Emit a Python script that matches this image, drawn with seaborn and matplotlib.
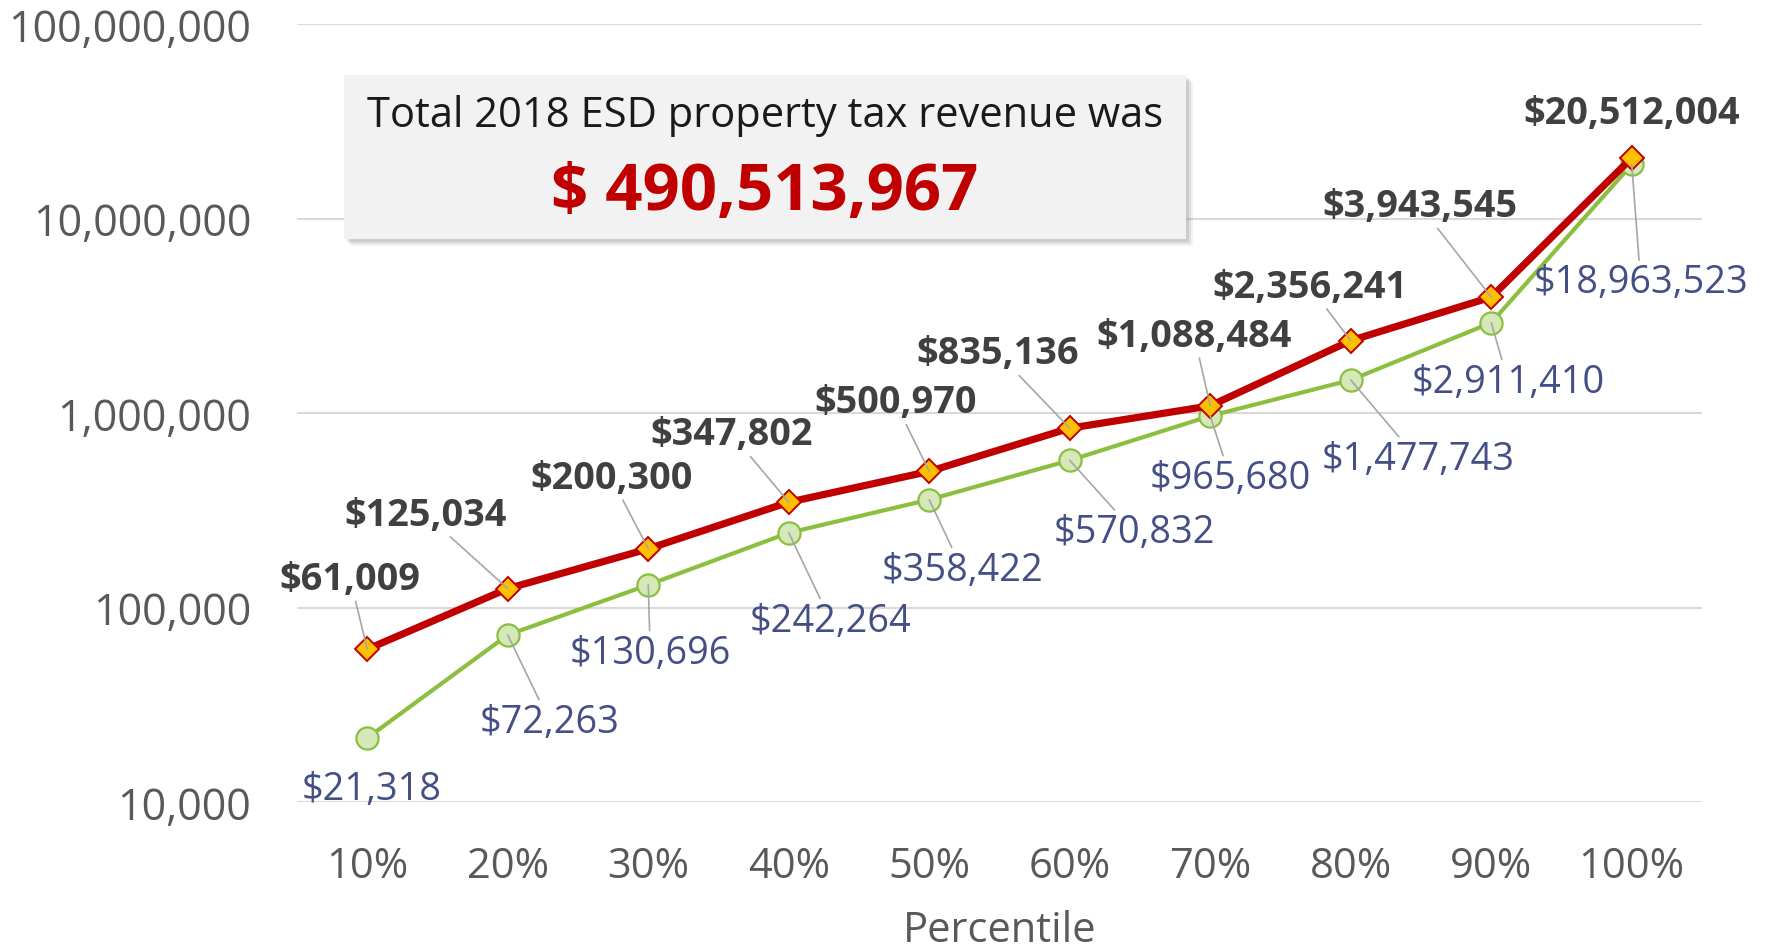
import numpy as np
import pandas as pd
import matplotlib
matplotlib.use("Agg")
import matplotlib.pyplot as plt
import seaborn as sns
from matplotlib.patches import Rectangle
from matplotlib.ticker import FixedLocator, FuncFormatter, NullLocator

# Data
percentiles = ["10%", "20%", "30%", "40%", "50%", "60%", "70%", "80%", "90%", "100%"]
red_values = [61009, 125034, 200300, 347802, 500970, 835136, 1088484, 2356241, 3943545, 20512004]
green_values = [21318, 72263, 130696, 242264, 358422, 570832, 965680, 1477743, 2911410, 18963523]
total_revenue = 490513967

# label offsets (pixels) relative to each point
red_offsets = [(-17, 70), (-82, 74), (-37, 71), (-57, 68), (-34, 69),
               (-72, 75), (-16, 70), (-41, 54), (-71, 91), (0, 45)]
green_offsets = [(4, -51), (42, -87), (2, -68), (42, -88), (33, -70),
                 (65, -72), (20, -62), (67, -79), (17, -59), (9, -118)]

sns.set_style("white")
plt.rcParams["font.family"] = ["Open Sans", "DejaVu Sans"]

df = pd.DataFrame({
    "pct": percentiles * 2,
    "value": red_values + green_values,
    "series": ["red"] * len(red_values) + ["green"] * len(green_values),
})

fig = plt.figure(figsize=(17.68, 9.53), dpi=100)
ax = fig.add_axes([297 / 1768, 1 - 803 / 953, 1405 / 1768, 778 / 953])

green_df = df[df.series == "green"]
red_df = df[df.series == "red"]

sns.lineplot(data=green_df, x="pct", y="value", ax=ax, color="#8cbf3f", lw=3.0,
             marker="o", ms=16, mfc="#d4e8b8", mec="#8cbf3f", mew=1.6, zorder=3)
sns.lineplot(data=red_df, x="pct", y="value", ax=ax, color="#c00000", lw=5.2,
             marker="D", ms=12, mfc="#ffc000", mec="#c00000", mew=1.4, zorder=4)

ax.set_yscale("log")
ax.set_ylim(1e4, 1e8)
ax.set_xlim(-0.5, len(percentiles) - 0.5)
ax.yaxis.set_major_locator(FixedLocator([1e4, 1e5, 1e6, 1e7, 1e8]))
ax.yaxis.set_minor_locator(NullLocator())
ax.yaxis.set_major_formatter(FuncFormatter(lambda v, p: f"{v:,.0f}"))
ax.grid(axis="y", color="#d9d9d9", lw=1.5)
ax.grid(axis="x", visible=False)
for s in ax.spines.values():
    s.set_visible(False)
ax.tick_params(axis="both", length=0, colors="#595959")
ax.tick_params(axis="y", labelsize=31, pad=33)
ax.tick_params(axis="x", labelsize=30, pad=31)
ax.set_ylabel("")
ax.set_xlabel("Percentile", fontsize=30, color="#595959", labelpad=16)

leader = dict(arrowstyle="-", color="#a6a6a6", lw=1.2, shrinkA=0, shrinkB=0)

for i, (v, off) in enumerate(zip(red_values, red_offsets)):
    far = np.hypot(*off) > 55
    ax.annotate(f"${v:,}", xy=(i, v), xytext=off, textcoords="offset pixels",
                ha="center", va="center", fontsize=27.3, fontweight="bold",
                color="#404040", arrowprops=leader if far else None, zorder=5)

for i, (v, off) in enumerate(zip(green_values, green_offsets)):
    far = np.hypot(*off) > 55
    ax.annotate(f"${v:,}", xy=(i, v), xytext=off, textcoords="offset pixels",
                ha="center", va="center", fontsize=27.3, color="#434f85",
                arrowprops=leader if far else None, zorder=5)

# callout box with shadow
bx, by, bw, bh = 344 / 1768, 1 - 240 / 953, 842 / 1768, 164 / 953
for k, a in [(7, 0.10), (5, 0.15), (3, 0.2)]:
    fig.patches.append(Rectangle((bx + k / 1768, by - k / 953), bw, bh,
                                 transform=fig.transFigure, facecolor="#7f7f7f",
                                 edgecolor="none", alpha=a, zorder=5))
fig.patches.append(Rectangle((bx, by), bw, bh, transform=fig.transFigure,
                             facecolor="#f2f2f2", edgecolor="none", zorder=6))
fig.text(765 / 1768, 1 - 116 / 953, "Total 2018 ESD property tax revenue was",
         ha="center", va="center", fontsize=30, color="#1a1a1a", zorder=7)
fig.text(765 / 1768, 1 - 193 / 953, f"$ {total_revenue:,}",
         ha="center", va="center", fontsize=47, fontweight="bold",
         color="#c00000", zorder=7)

fig.savefig("out.png", dpi=100)
